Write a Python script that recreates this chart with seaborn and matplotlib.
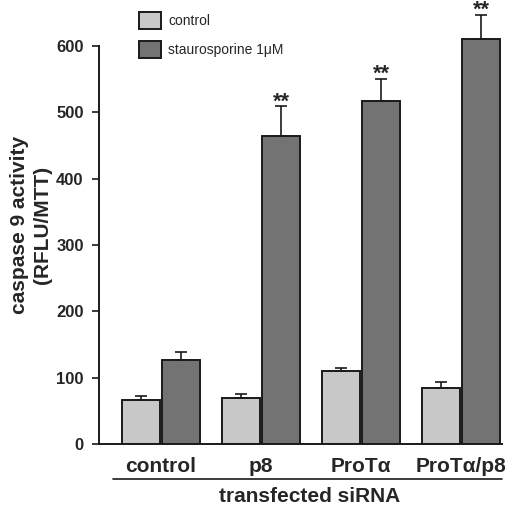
import matplotlib
matplotlib.use("Agg")
import matplotlib.pyplot as plt
import seaborn as sns
import pandas as pd
import numpy as np
from matplotlib.lines import Line2D

groups = ["control", "p8", "ProTα", "ProTα/p8"]
treatments = ["control", "staurosporine 1μM"]
control_vals = [67, 69, 110, 85]
control_err = [5, 7, 4, 8]
stauro_vals = [127, 465, 517, 611]
stauro_err = [12, 44, 34, 36]
stars = ["", "**", "**", "**"]

sns.set_theme(style="white")
plt.rcParams["font.family"] = ["Liberation Sans", "DejaVu Sans"]

df = pd.DataFrame({
    "group": groups * 2,
    "treatment": [treatments[0]] * 4 + [treatments[1]] * 4,
    "value": control_vals + stauro_vals,
})

fig = plt.figure(figsize=(5.12, 5.07), dpi=100)
ax = fig.add_axes([99 / 512, 1 - 444 / 507, 403 / 512, 660 * 0.6633 / 507])

sns.barplot(data=df, x="group", y="value", hue="treatment", order=groups,
            hue_order=treatments, palette=["#c8c8c8", "#737373"],
            edgecolor="#1a1a1a", linewidth=1.4, errorbar=None, ax=ax,
            width=0.8, gap=0.06)

# error bars (upper only) using bar positions from the library
patches = [p for p in ax.patches if p.get_height() > 0]
patches = sorted(patches, key=lambda p: p.get_x())
vals = []
errs = []
for i in range(4):
    vals += [control_vals[i], stauro_vals[i]]
    errs += [control_err[i], stauro_err[i]]
for p, v, e in zip(patches, vals, errs):
    xc = p.get_x() + p.get_width() / 2
    ax.errorbar([xc], [v], yerr=[[0], [e]], fmt="none", ecolor="#1a1a1a",
                elinewidth=1.2, capsize=4, capthick=1.2, zorder=1)
for i in range(4):
    p = patches[2 * i + 1]
    xc = p.get_x() + p.get_width() / 2
    if stars[i]:
        ax.text(xc, stauro_vals[i] + stauro_err[i] - 9, stars[i], ha="center",
                va="bottom", fontsize=15.5, fontweight="bold", clip_on=False)

ax.set_xlim(-0.62, 3.41)
ax.set_ylim(0, 660)
ax.set_yticks([0, 100, 200, 300, 400, 500, 600])
ax.spines["top"].set_visible(False)
ax.spines["right"].set_visible(False)
ax.spines["left"].set_bounds(0, 600)
for s in ["left", "bottom"]:
    ax.spines[s].set_linewidth(1.4)
    ax.spines[s].set_color("#1a1a1a")
ax.tick_params(axis="y", left=True, length=5, width=1.2, pad=6, labelsize=12, color="#1a1a1a")
ax.tick_params(axis="x", bottom=False, pad=3, labelsize=15)
for t in ax.get_yticklabels():
    t.set_fontweight("bold")
for t in ax.get_xticklabels():
    t.set_fontweight("bold")
ax.set_xlabel("")
ax.set_ylabel("caspase 9 activity\n(RFLU/MTT)", fontsize=15, fontweight="bold",
              labelpad=3, linespacing=1.3)

handles, labels = ax.get_legend_handles_labels()
ax.legend(handles, labels, loc="upper left", bbox_to_anchor=(139 / 512, 1 - 12 / 507),
          bbox_transform=fig.transFigure, frameon=False, fontsize=10,
          handlelength=1.55, handleheight=1.55, handletextpad=0.55,
          labelspacing=0.8, borderpad=0, borderaxespad=0)

fig.add_artist(Line2D([113 / 512, 502 / 512], [1 - 479 / 507, 1 - 479 / 507],
                      color="#1a1a1a", linewidth=1.2))
fig.text(310 / 512, 1 - 496 / 507, "transfected siRNA", ha="center", va="center",
         fontsize=15, fontweight="bold")

fig.savefig("out.png", dpi=100)
